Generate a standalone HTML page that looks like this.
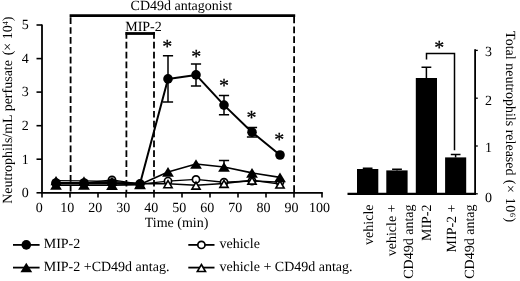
<!DOCTYPE html>
<html lang="en"><head><meta charset="utf-8"><title>Figure</title>
<style>html,body{margin:0;padding:0;background:#fff}body{width:520px;height:281px;overflow:hidden}</style></head>
<body>
<svg width="520" height="281" viewBox="0 0 520 281" style="display:block">
<rect width="520" height="281" fill="#fff"/>
<g font-family="'Liberation Serif', 'Times New Roman', serif" font-size="14" fill="#000" text-rendering="geometricPrecision">
<path d="M42.0 24.5V192.8H322.7" fill="none" stroke="#000" stroke-width="1.8"/>
<path d="M36.5 192.8H42.0" stroke="#000" stroke-width="1.6"/>
<text x="25.3" y="196.5" text-anchor="middle">0</text>
<path d="M36.5 159.2H42.0" stroke="#000" stroke-width="1.6"/>
<text x="25.3" y="163.7" text-anchor="middle">1</text>
<path d="M36.5 125.7H42.0" stroke="#000" stroke-width="1.6"/>
<text x="25.3" y="130.0" text-anchor="middle">2</text>
<path d="M36.5 92.1H42.0" stroke="#000" stroke-width="1.6"/>
<text x="25.3" y="96.2" text-anchor="middle">3</text>
<path d="M36.5 58.6H42.0" stroke="#000" stroke-width="1.6"/>
<text x="25.3" y="62.7" text-anchor="middle">4</text>
<path d="M36.5 25.0H42.0" stroke="#000" stroke-width="1.6"/>
<text x="25.3" y="28.9" text-anchor="middle">5</text>
<path d="M42.0 192.5V197.4" stroke="#000" stroke-width="1.6"/>
<text x="39.2" y="212.2" text-anchor="middle">0</text>
<path d="M70.0 192.5V197.4" stroke="#000" stroke-width="1.6"/>
<text x="67.2" y="212.2" text-anchor="middle">10</text>
<path d="M98.0 192.5V197.4" stroke="#000" stroke-width="1.6"/>
<text x="95.2" y="212.2" text-anchor="middle">20</text>
<path d="M126.0 192.5V197.4" stroke="#000" stroke-width="1.6"/>
<text x="123.3" y="212.2" text-anchor="middle">30</text>
<path d="M154.0 192.5V197.4" stroke="#000" stroke-width="1.6"/>
<text x="151.3" y="212.2" text-anchor="middle">40</text>
<path d="M182.0 192.5V197.4" stroke="#000" stroke-width="1.6"/>
<text x="179.3" y="212.2" text-anchor="middle">50</text>
<path d="M210.0 192.5V197.4" stroke="#000" stroke-width="1.6"/>
<text x="207.3" y="212.2" text-anchor="middle">60</text>
<path d="M238.0 192.5V197.4" stroke="#000" stroke-width="1.6"/>
<text x="235.3" y="212.2" text-anchor="middle">70</text>
<path d="M266.0 192.5V197.4" stroke="#000" stroke-width="1.6"/>
<text x="263.4" y="212.2" text-anchor="middle">80</text>
<path d="M294.0 192.5V197.4" stroke="#000" stroke-width="1.6"/>
<text x="291.4" y="212.2" text-anchor="middle">90</text>
<path d="M322.0 192.5V197.4" stroke="#000" stroke-width="1.6"/>
<text x="319.4" y="212.2" text-anchor="middle">100</text>
<text x="176.6" y="226.8" text-anchor="middle">Time (min)</text>
<text transform="translate(11.5,110.2) rotate(-90)" text-anchor="middle">Neutrophils/mL perfusate <tspan dx="1.2">(× 10</tspan><tspan font-size="8" dy="-3.4">4</tspan><tspan dy="3.4">)</tspan></text>
<path d="M70.6 17.3V192.5" stroke="#000" stroke-width="1.8" stroke-dasharray="6.7 3.16" fill="none"/>
<path d="M294.1 16.5V192.5" stroke="#000" stroke-width="1.8" stroke-dasharray="6.7 3.225" fill="none"/>
<path d="M126.4 32V192.5" stroke="#000" stroke-width="1.8" stroke-dasharray="6.7 3.16" fill="none"/>
<path d="M154 32V192.5" stroke="#000" stroke-width="1.8" stroke-dasharray="6.7 3.16" fill="none"/>
<path d="M69.6 15.7H295.2" stroke="#000" stroke-width="2.7"/>
<path d="M125.5 33.5H155" stroke="#000" stroke-width="2.8"/>
<text x="181.3" y="9.9" text-anchor="middle">CD49d antagonist</text>
<text x="143.5" y="30.7" text-anchor="middle">MIP-2</text>
<polyline points="56.0,183.1 84.0,183.1 112.0,179.9 140.0,184.1 168.0,181.1 196.0,179.4 224.0,182.2 252.0,181.0 280.0,182.1" fill="none" stroke="#000" stroke-width="1.45" stroke-linejoin="round"/>
<circle cx="56.0" cy="183.1" r="3.6" fill="#fff" stroke="#000" stroke-width="1.7"/>
<circle cx="84.0" cy="183.1" r="3.6" fill="#fff" stroke="#000" stroke-width="1.7"/>
<circle cx="112.0" cy="179.9" r="3.6" fill="#fff" stroke="#000" stroke-width="1.7"/>
<circle cx="140.0" cy="184.1" r="3.6" fill="#fff" stroke="#000" stroke-width="1.7"/>
<circle cx="168.0" cy="181.1" r="3.6" fill="#fff" stroke="#000" stroke-width="1.7"/>
<circle cx="196.0" cy="179.4" r="3.6" fill="#fff" stroke="#000" stroke-width="1.7"/>
<circle cx="224.0" cy="182.2" r="3.6" fill="#fff" stroke="#000" stroke-width="1.7"/>
<circle cx="252.0" cy="181.0" r="3.6" fill="#fff" stroke="#000" stroke-width="1.7"/>
<circle cx="280.0" cy="182.1" r="3.6" fill="#fff" stroke="#000" stroke-width="1.7"/>
<polyline points="56.0,180.6 84.0,180.9 112.0,181.4 140.0,183.8 168.0,183.8 196.0,185.2 224.0,183.5 252.0,180.2 280.0,184.1" fill="none" stroke="#000" stroke-width="1.45" stroke-linejoin="round"/>
<path d="M56.0 177.49L60.1 184.5H51.9Z" fill="#fff" stroke="#000" stroke-width="1.6" stroke-linejoin="miter"/>
<path d="M84.0 177.79L88.1 184.8H79.9Z" fill="#fff" stroke="#000" stroke-width="1.6" stroke-linejoin="miter"/>
<path d="M112.0 178.32L116.1 185.3H107.9Z" fill="#fff" stroke="#000" stroke-width="1.6" stroke-linejoin="miter"/>
<path d="M140.0 180.67L144.1 187.7H135.9Z" fill="#fff" stroke="#000" stroke-width="1.6" stroke-linejoin="miter"/>
<path d="M168.0 180.64L172.1 187.7H163.9Z" fill="#fff" stroke="#000" stroke-width="1.6" stroke-linejoin="miter"/>
<path d="M196.0 182.04L200.1 189.1H191.9Z" fill="#fff" stroke="#000" stroke-width="1.6" stroke-linejoin="miter"/>
<path d="M224.0 180.34L228.1 187.4H219.9Z" fill="#fff" stroke="#000" stroke-width="1.6" stroke-linejoin="miter"/>
<path d="M252.0 177.12L256.1 184.1H247.9Z" fill="#fff" stroke="#000" stroke-width="1.6" stroke-linejoin="miter"/>
<path d="M280.0 180.94L284.1 188.0H275.9Z" fill="#fff" stroke="#000" stroke-width="1.6" stroke-linejoin="miter"/>
<path d="M162.9 55.8H173.1M168.0 55.8V102.0M162.9 102.0H173.1" stroke="#000" stroke-width="1.5" fill="none"/>
<path d="M190.9 63.9H201.1M196.0 63.9V86.0M190.9 86.0H201.1" stroke="#000" stroke-width="1.5" fill="none"/>
<path d="M218.9 95.4H229.1M224.0 95.4V114.7M218.9 114.7H229.1" stroke="#000" stroke-width="1.5" fill="none"/>
<path d="M246.9 127.5H257.1M252.0 127.5V136.9M246.9 136.9H257.1" stroke="#000" stroke-width="1.5" fill="none"/>
<polyline points="56.0,183.0 84.0,183.0 112.0,183.0 140.0,183.8 168.0,78.9 196.0,74.9 224.0,105.1 252.0,132.2 280.0,155.0" fill="none" stroke="#000" stroke-width="2.0" stroke-linejoin="round"/>
<circle cx="56.0" cy="183.0" r="4.8" fill="#000"/>
<circle cx="84.0" cy="183.0" r="4.8" fill="#000"/>
<circle cx="112.0" cy="183.0" r="4.8" fill="#000"/>
<circle cx="140.0" cy="183.8" r="4.8" fill="#000"/>
<circle cx="168.0" cy="78.9" r="4.8" fill="#000"/>
<circle cx="196.0" cy="74.9" r="4.8" fill="#000"/>
<circle cx="224.0" cy="105.1" r="4.8" fill="#000"/>
<circle cx="252.0" cy="132.2" r="4.8" fill="#000"/>
<circle cx="280.0" cy="155.0" r="4.8" fill="#000"/>
<path d="M218.9 160.6H229.1M224.0 160.6V167.0" stroke="#000" stroke-width="1.5" fill="none"/>
<polyline points="56.0,185.1 84.0,185.1 112.0,185.1 140.0,184.6 168.0,171.9 196.0,164.0 224.0,167.0 252.0,172.9 280.0,177.4" fill="none" stroke="#000" stroke-width="1.6" stroke-linejoin="round"/>
<path d="M56.0 180.21L61.9 189.81H50.1Z" fill="#000"/>
<path d="M84.0 180.21L89.9 189.81H78.1Z" fill="#000"/>
<path d="M112.0 180.28L117.9 189.88H106.1Z" fill="#000"/>
<path d="M140.0 179.71L145.9 189.31H134.1Z" fill="#000"/>
<path d="M168.0 167.05L173.9 176.65H162.1Z" fill="#000"/>
<path d="M196.0 159.18L201.9 168.78H190.1Z" fill="#000"/>
<path d="M224.0 162.16L229.9 171.76H218.1Z" fill="#000"/>
<path d="M252.0 168.05L257.9 177.65H246.1Z" fill="#000"/>
<path d="M280.0 172.58L285.9 182.18H274.1Z" fill="#000"/>
<text x="167.2" y="53.4" font-size="20" text-anchor="middle" stroke="#000" stroke-width="0.25">*</text>
<text x="196.2" y="62.5" font-size="20" text-anchor="middle" stroke="#000" stroke-width="0.25">*</text>
<text x="223.9" y="92.10000000000001" font-size="20" text-anchor="middle" stroke="#000" stroke-width="0.25">*</text>
<text x="251.6" y="123.60000000000001" font-size="20" text-anchor="middle" stroke="#000" stroke-width="0.25">*</text>
<text x="279.3" y="145.70000000000002" font-size="20" text-anchor="middle" stroke="#000" stroke-width="0.25">*</text>
<path d="M13 244.9H39.6" stroke="#000" stroke-width="1.8"/>
<circle cx="26.3" cy="244.9" r="4.8" fill="#000"/>
<text x="43.7" y="247.8">MIP-2</text>
<path d="M13 267.6H39.6" stroke="#000" stroke-width="1.8"/>
<path d="M26.3 262.75L32.2 272.35H20.4Z" fill="#000"/>
<text x="43.7" y="270.5">MIP-2 +CD49d antag.</text>
<path d="M188.3 244.9H214.5" stroke="#000" stroke-width="1.8"/>
<circle cx="201.4" cy="244.9" r="3.6" fill="#fff" stroke="#000" stroke-width="1.7"/>
<text x="219.5" y="247.8">vehicle</text>
<path d="M188.3 267.6H214.5" stroke="#000" stroke-width="1.8"/>
<path d="M201.4 264.48L205.5 271.5H197.3Z" fill="#fff" stroke="#000" stroke-width="1.6" stroke-linejoin="miter"/>
<text x="219.5" y="270.5">vehicle + CD49d antag.</text>
<path d="M475.1 49.2V193.8" stroke="#000" stroke-width="1.8"/>
<path d="M347.5 193.8H476.0" stroke="#000" stroke-width="2.2"/>
<path d="M475.1 193.8H477.8" stroke="#000" stroke-width="1.3"/>
<text x="488.5" y="201.8" text-anchor="middle">0</text>
<path d="M475.1 146.0H477.8" stroke="#000" stroke-width="1.3"/>
<text x="488.5" y="152.1" text-anchor="middle">1</text>
<path d="M475.1 98.2H477.8" stroke="#000" stroke-width="1.3"/>
<text x="488.5" y="105.1" text-anchor="middle">2</text>
<path d="M475.1 50.4H477.8" stroke="#000" stroke-width="1.3"/>
<text x="488.5" y="56.1" text-anchor="middle">3</text>
<rect x="357.0" y="169.0" width="21.3" height="24.8" fill="#000"/>
<path d="M362.8 168.3H372.5M367.6 168.3V169.0" stroke="#000" stroke-width="1.5" fill="none"/>
<rect x="386.3" y="170.4" width="21.3" height="23.4" fill="#000"/>
<path d="M392.1 169.3H401.9M397.0 169.3V170.4" stroke="#000" stroke-width="1.5" fill="none"/>
<rect x="415.8" y="78" width="21.2" height="115.8" fill="#000"/>
<path d="M421.5 67.2H431.3M426.4 67.2V78" stroke="#000" stroke-width="1.5" fill="none"/>
<rect x="445.1" y="157.4" width="21.1" height="36.4" fill="#000"/>
<path d="M450.8 154.6H460.5M455.6 154.6V157.4" stroke="#000" stroke-width="1.5" fill="none"/>
<path d="M426.5 59.5V53.5H454.5V150.3" stroke="#000" stroke-width="1.5" fill="none"/>
<text x="439.2" y="53.699999999999996" font-size="20" text-anchor="middle" stroke="#000" stroke-width="0.25">*</text>
<text transform="translate(373.3,204.5) rotate(-90)" text-anchor="end">vehicle</text>
<text transform="translate(396,204.5) rotate(-90)" text-anchor="end">vehicle +</text>
<text transform="translate(413,204.5) rotate(-90)" text-anchor="end">CD49d antag</text>
<text transform="translate(430.8,204.5) rotate(-90)" text-anchor="end">MIP-2</text>
<text transform="translate(456.1,204.5) rotate(-90)" text-anchor="end">MIP-2 +</text>
<text transform="translate(473.8,204.5) rotate(-90)" text-anchor="end">CD49d antag</text>
<text transform="translate(506.3,31.1) rotate(90)">Total neutrophils released <tspan dx="0.8" letter-spacing="0.6">(× 10</tspan><tspan font-size="8" dy="-3.4">6</tspan><tspan dy="3.4" dx="0.5">)</tspan></text>
</g></svg>
</body></html>
